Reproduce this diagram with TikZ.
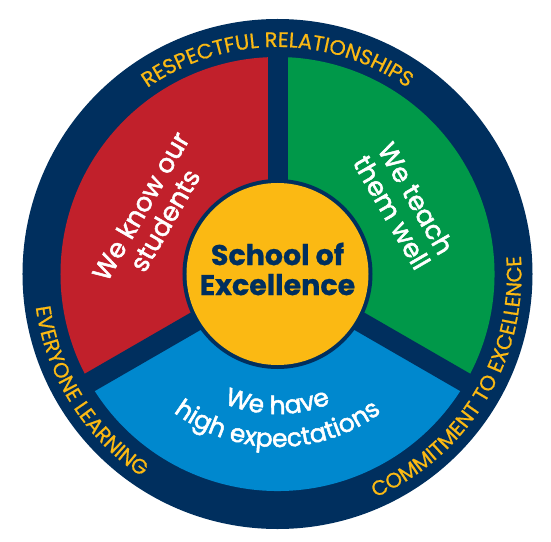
\documentclass[tikz,border=0pt]{standalone}
\usepackage{fontspec}
\setmainfont{Poppins}[BoldFeatures={FakeBold=0.8}]
\newfontfamily\medfont[FakeBold=2]{Poppins}
\newfontfamily\ringfont[FakeBold=0.6]{Poppins}
\usetikzlibrary{decorations.text}
\definecolor{navy}{RGB}{0,47,94}
\definecolor{sred}{RGB}{193,32,43}
\definecolor{sgreen}{RGB}{0,152,73}
\definecolor{sblue}{RGB}{0,136,206}
\definecolor{syellow}{RGB}{251,185,19}
\tikzset{
  sectortext/.style={text=white, align=center, font=\medfont\fontsize{26}{28}\selectfont},
  divider/.style={navy, line width=20pt},
  ringtext/.style={decorate, decoration={text along path, text align=center, text={|\ringfont\fontsize{21}{21}\selectfont\color{syellow}|#1}}},
  bluetext/.style={decorate, decoration={text along path, text align=center, text={|\medfont\fontsize{25}{25}\selectfont\color{white}|#1}}}
}
\begin{document}
\begin{tikzpicture}[x=1pt,y=1pt]
\useasboundingbox (-277.5,-267) rectangle (273.5,274);
\fill[navy] (0,0) circle (255);
\fill[sred] (0,0) -- (90:217) arc[start angle=90,end angle=210,radius=217] -- cycle;
\fill[sgreen] (0,0) -- (-30:217) arc[start angle=-30,end angle=90,radius=217] -- cycle;
\fill[sblue] (0,0) -- (210:217) arc[start angle=210,end angle=330,radius=217] -- cycle;
\coordinate (c) at (0,0);
\coordinate (d1) at (90:225);
\coordinate (d2) at (210:225);
\coordinate (d3) at (330:225);
\draw[divider] (c) -- (d1);
\draw[divider] (c) -- (d2);
\draw[divider] (c) -- (d3);
\fill[navy] (0,0) circle (95);
\fill[syellow] (0,0) circle (91);
\node[text=navy, align=center, font=\bfseries\fontsize{28.5}{30}\selectfont] (school) at (0,5) {School of\\Excellence};
\node[sectortext, rotate=60] (know) at (154:139) {We know our\\students};
\node[sectortext, rotate=-60] (teach) at (28.5:144) {We teach\\them well};
\path[bluetext={We have}] (200:140) arc[start angle=200,end angle=340,radius=140];
\path[bluetext={high expectations}] (200:173) arc[start angle=200,end angle=340,radius=173];
\path[ringtext={RESPECTFUL RELATIONSHIPS}] (160:227) arc[start angle=160,end angle=20,radius=227];
\path[ringtext={EVERYONE LEARNING}] (150:244) arc[start angle=150,end angle=274,radius=244];
\path[ringtext={COMMITMENT TO EXCELLENCE}] (-93:244) arc[start angle=-93,end angle=31,radius=244];
\end{tikzpicture}
\end{document}
